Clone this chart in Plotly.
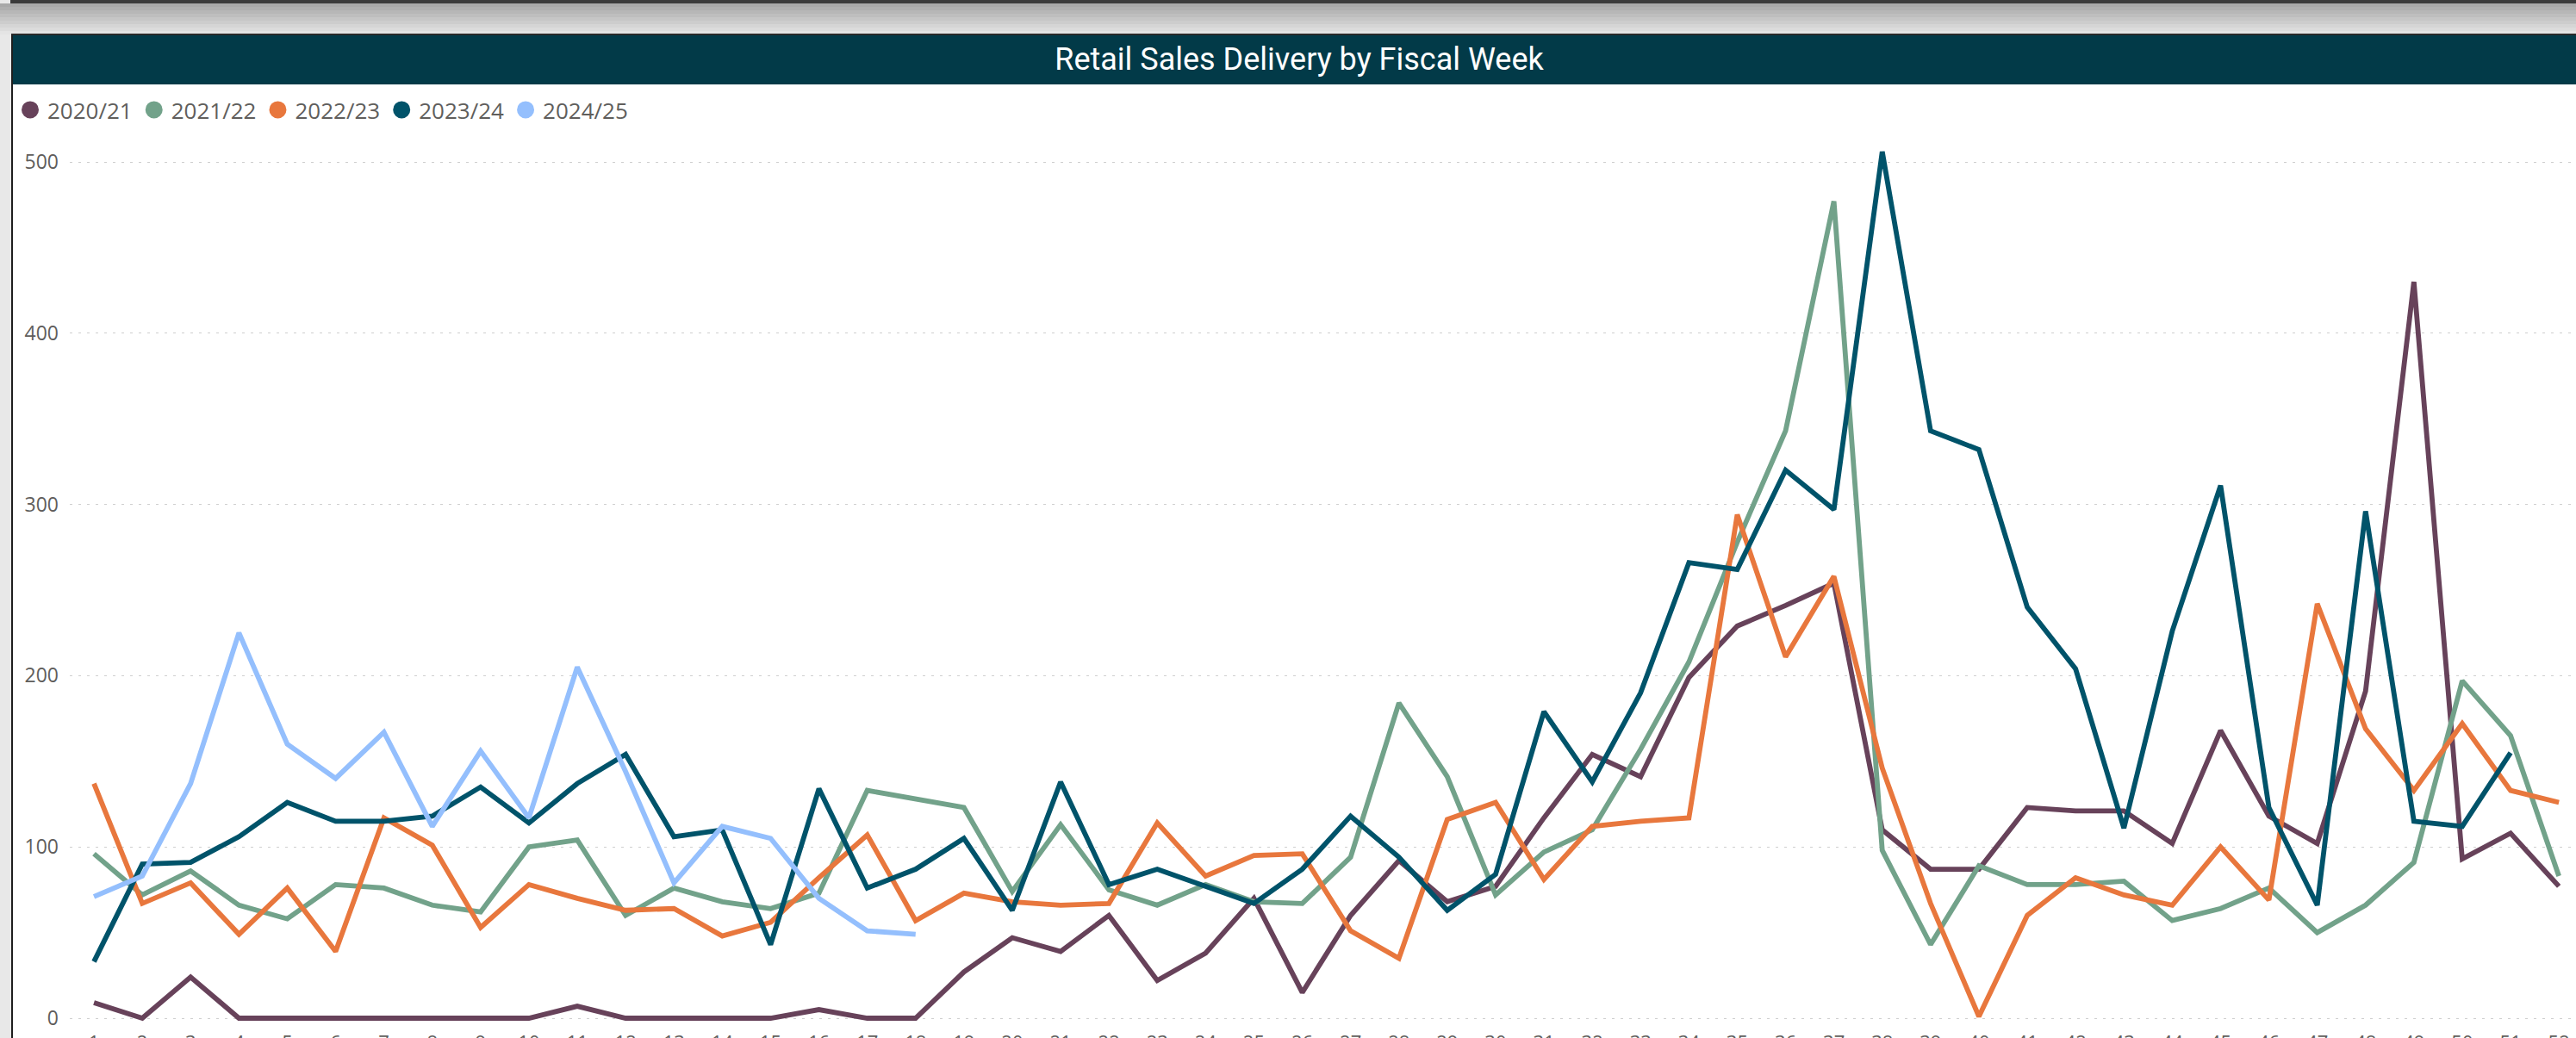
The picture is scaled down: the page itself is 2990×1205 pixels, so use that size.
import plotly.graph_objects as go

# ---------------- data ----------------
weeks = list(range(1, 53))
series_names = ["2020/21", "2021/22", "2022/23", "2023/24", "2024/25"]

sales_2020_21 = [9, 0, 24, 0, 0, 0, 0, 0, 0, 0,
                 7, 0, 0, 0, 0, 5, 0, 0, 27, 47,
                 39, 60, 22, 38, 70, 15, 60, 92, 68, 77,
                 117, 154, 141, 199, 229, 241, 254, 110, 87, 87,
                 123, 121, 121, 102, 168, 118, 102, 191, 430, 93,
                 108, 77]
sales_2021_22 = [96, 72, 86, 66, 58, 78, 76, 66, 62, 100,
                 104, 60, 76, 68, 64, 73, 133, 128, 123, 74,
                 113, 75, 66, 78, 68, 67, 94, 184, 141, 72,
                 97, 110, 157, 208, 278, 343, 477, 98, 43, 89,
                 78, 78, 80, 57, 64, 76, 50, 66, 91, 197,
                 165, 83]
sales_2022_23 = [137, 67, 79, 49, 76, 39, 117, 101, 53, 78,
                 70, 63, 64, 48, 56, 82, 107, 57, 73, 68,
                 66, 67, 114, 83, 95, 96, 51, 35, 116, 126,
                 81, 112, 115, 117, 294, 211, 258, 146, 67, 1,
                 60, 82, 72, 66, 100, 69, 242, 169, 133, 172,
                 133, 126]
sales_2023_24 = [33, 90, 91, 106, 126, 115, 115, 118, 135, 114,
                 137, 154, 106, 110, 43, 134, 76, 87, 105, 63,
                 138, 78, 87, 77, 67, 87, 118, 94, 63, 84,
                 179, 138, 190, 266, 262, 320, 297, 506, 343, 332,
                 240, 204, 111, 226, 311, 123, 66, 296, 115, 112,
                 155, None]
sales_2024_25 = [71, 83, 137, 225, 160, 140, 167, 112, 156, 117,
                 205, 144, 79, 112, 105, 70, 51, 49]

y_ticks = [0, 100, 200, 300, 400, 500]

series_values = [sales_2020_21, sales_2021_22, sales_2022_23, sales_2023_24, sales_2024_25]
series_colors = ["#67425A", "#72A28A", "#E8773D", "#00536A", "#94BFFD"]

# ---------------- layout geometry (pixels) ----------------
W, H = 2990, 1205
L, R, T, B = 81, 0, 150, 10
PW, PH = W - L - R, H - T - B


def px(x):
    return (x - L) / PW


def py(y):
    return (H - B - y) / PH


TXT = "#605E5C"
FONT = "Segoe UI, Open Sans, Noto Sans, sans-serif"

fig = go.Figure()

for name, vals, col in zip(series_names, series_values, series_colors):
    fig.add_trace(go.Scatter(
        x=weeks[:len(vals)], y=vals, mode="lines", name=name,
        line=dict(color=col, width=5.8), showlegend=False,
        connectgaps=False, hoverinfo="x+y+name"))

# legend entries with circle symbols
for name, col in zip(series_names, series_colors):
    fig.add_trace(go.Scatter(
        x=[None], y=[None], mode="markers", name=name,
        marker=dict(symbol="circle", size=19, color=col, line=dict(color=col, width=4)),
        showlegend=True))

shapes = []
# top shadow gradient
n = 9
for i in range(n):
    t = i / (n - 1)
    c = int(168 + (228 - 168) * t)
    shapes.append(dict(type="rect", xref="paper", yref="paper", layer="below",
                       x0=px(0), x1=px(W), y0=py(4 + i * 4), y1=py(8 + i * 4),
                       fillcolor=f"rgb({c},{c},{c})", line=dict(width=0)))
shapes.append(dict(type="rect", xref="paper", yref="paper", layer="below",
                   x0=px(12), x1=px(W), y0=py(0), y1=py(4),
                   fillcolor="#3a3a3a", line=dict(width=0)))
# card
shapes.append(dict(type="rect", xref="paper", yref="paper", layer="below",
                   x0=px(13), x1=px(W), y0=py(39), y1=py(H),
                   fillcolor="#ffffff", line=dict(width=0)))
shapes.append(dict(type="rect", xref="paper", yref="paper", layer="below",
                   x0=px(13), x1=px(15), y0=py(39), y1=py(H),
                   fillcolor="#1e1e1e", line=dict(width=0)))
# title bar
shapes.append(dict(type="rect", xref="paper", yref="paper", layer="below",
                   x0=px(15), x1=px(W), y0=py(41), y1=py(98),
                   fillcolor="#023A48", line=dict(width=0)))
shapes.append(dict(type="rect", xref="paper", yref="paper", layer="below",
                   x0=px(13), x1=px(W), y0=py(39), y1=py(41),
                   fillcolor="#2a2a2a", line=dict(width=0)))

y_top = (1182 - T) / 1.988
y_bot = -(H - B - 1182) / 1.988

fig.update_layout(
    width=W, height=H,
    margin=dict(l=L, r=R, t=T, b=B, autoexpand=False),
    paper_bgcolor="#e8e8e8",
    plot_bgcolor="#ffffff",
    shapes=shapes,
    title=dict(text="Retail Sales Delivery by Fiscal Week",
               font=dict(family="DIN, Roboto, sans-serif", size=36, color="#ffffff"),
               xref="container", yref="container",
               x=1508 / W, y=1 - 68 / H, xanchor="center", yanchor="middle"),
    legend=dict(orientation="h", xref="container", yref="container",
                x=15 / W, y=1 - 104 / H, xanchor="left", yanchor="top",
                font=dict(family=FONT, size=26, color=TXT),
                bgcolor="rgba(0,0,0,0)", borderwidth=0,
                traceorder="normal"),
    xaxis=dict(range=[0.5, 0.5 + PW / 56.1], tickmode="linear", tick0=1, dtick=1,
               showgrid=False, zeroline=False, showline=False, ticks="",
               tickfont=dict(family=FONT, size=22, color=TXT), automargin=False),
    yaxis=dict(range=[y_bot, y_top], tickmode="array", tickvals=y_ticks,
               showgrid=True, gridcolor="#cfcfcf", griddash="3px,7px", gridwidth=1,
               zeroline=False, showline=False, ticks="",
               ticklabelstandoff=12,
               tickfont=dict(family=FONT, size=23, color=TXT), automargin=False),
    showlegend=True,
    hovermode="closest",
)

fig.write_html("out.html", config={"displayModeBar": False},
               post_script="document.body.style.margin='0';document.body.style.overflow='hidden';")
